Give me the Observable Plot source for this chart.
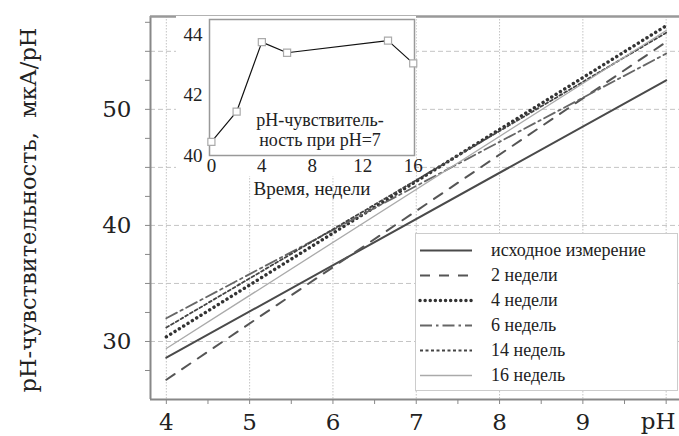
<!DOCTYPE html>
<html><head><meta charset="utf-8">
<script src="https://cdn.jsdelivr.net/npm/d3@7"></script>
<script src="https://cdn.jsdelivr.net/npm/@observablehq/plot@0.6"></script>
<style>
html,body{margin:0;padding:0;background:#fff;}
#wrap{position:relative;width:679px;height:436px;overflow:hidden;background:#fff;}
#main{position:absolute;left:0;top:0;}
#insetBg{position:absolute;left:176px;top:16px;width:240px;height:160px;background:#fff;}
#inset{position:absolute;left:176px;top:16px;}
#legend{position:absolute;left:415px;top:233px;width:263px;height:158px;box-sizing:border-box;border:1.5px solid #ccc;background:#fff;}
#legend svg{display:block;}
</style></head>
<body><div id="wrap"><div id="main"></div><div id="insetBg"></div><div id="inset"></div><div id="legend"></div></div>
<script>
// ---- data ----
const series = ["исходное измерение", "2 недели", "4 недели", "6 недель", "14 недель", "16 недель"];
const phPoints = [4, 10];
const sensAtPH4 = [28.6, 26.7, 30.4, 32.0, 31.2, 29.4];
const sensAtPH10 = [52.5, 55.8, 57.2, 54.8, 56.6, 56.8];
const xDomain = [3.81, 10.16];
const yDomain = [25, 58];
const xTickLabels = [4, 5, 6, 7, 8, 9];
const xTicks = [4, 4.5, 5, 5.5, 6, 6.5, 7, 7.5, 8, 8.5, 9, 9.5, 10];
const yTickLabels = [30, 40, 50];
const yTicks = [27.5, 30, 32.5, 35, 37.5, 40, 42.5, 45, 47.5, 50, 52.5, 55, 57.5];
const yGrid = [30, 35, 40, 45, 50, 55];
const xGrid = [4, 5, 6, 7, 8, 9, 10];
const yTitle = "pH-чувствительность,  мкА/pH";
const xTitle = "pH";

const insetWeeks = [0, 2, 4, 6, 14, 16];
const insetSens = [40.45, 41.45, 43.75, 43.4, 43.8, 43.05];
const insetXTicks = [0, 4, 8, 12, 16];
const insetYTicks = [40, 42, 44];
const insetXDomain = [-0.15, 16.1];
const insetYDomain = [40, 44.5];
const insetXTitle = "Время, недели";
const insetNote = "pH-чувствитель-\nность при pH=7";

// ---- styles ----
const lineStyles = [
  {stroke: "#4a4a4a", strokeWidth: 2},
  {stroke: "#555", strokeWidth: 2, strokeDasharray: "10,9"},
  {stroke: "#333", strokeWidth: 3.4, strokeDasharray: "0.1,5", strokeLinecap: "round"},
  {stroke: "#666", strokeWidth: 1.8, strokeDasharray: "12,4,2.5,4"},
  {stroke: "#444", strokeWidth: 1.8, strokeDasharray: "3,2.5"},
  {stroke: "#aaa", strokeWidth: 1.3}
];

const rows = series.flatMap((s, i) => phPoints.map((p, j) => ({series: s, pH: p, value: j === 0 ? sensAtPH4[i] : sensAtPH10[i]})));
const insetData = insetWeeks.map((w, i) => ({week: w, value: insetSens[i]}));

const main = Plot.plot({
  width: 679, height: 436,
  marginLeft: 150, marginRight: 0, marginTop: 16, marginBottom: 37,
  style: {fontFamily: "DejaVu Serif", fontSize: "23px", color: "#222", background: "#fff", overflow: "visible"},
  x: {domain: xDomain},
  y: {domain: yDomain},
  marks: [
    Plot.gridY(yGrid, {stroke: "#c4c4c4", strokeOpacity: 1, strokeDasharray: "5,3"}),
    Plot.gridX(xGrid, {stroke: "#c4c4c4", strokeOpacity: 1, strokeDasharray: "1.5,1.5"}),
    ...series.map((s, i) => Plot.line(rows.filter(r => r.series === s), {x: "pH", y: "value", ...lineStyles[i]})),
    Plot.ruleX([xDomain[0]], {stroke: "#888", strokeWidth: 2}),
    Plot.ruleY([yDomain[0]], {stroke: "#888", strokeWidth: 2}),
    Plot.ruleY([yDomain[1]], {stroke: "#999", strokeWidth: 2.5}),
    Plot.axisY(yTicks, {tickSize: 5, tickPadding: 14, stroke: "#888", fill: "#222", label: null,
      tickFormat: d => yTickLabels.includes(d) ? String(d) : ""}),
    Plot.axisX(xTicks, {tickSize: 5, tickPadding: 9, stroke: "#888", fill: "#222", label: null,
      tickFormat: d => xTickLabels.includes(d) ? String(d) : ""}),
    Plot.text([yTitle], {frameAnchor: "left", rotate: -90, textAnchor: "middle", lineAnchor: "middle", dx: -122, dy: 2, fontSize: 22.5, fill: "#222"}),
    Plot.text([xTitle], {frameAnchor: "bottom-right", textAnchor: "end", lineAnchor: "middle", dx: -4, dy: 22, fontSize: 23, fill: "#222"})
  ]
});
document.getElementById("main").appendChild(main);

const inset = Plot.plot({
  width: 244, height: 180,
  marginLeft: 33, marginRight: 6, marginTop: 3, marginBottom: 41,
  style: {fontFamily: "Liberation Serif", fontSize: "19px", color: "#222", background: "transparent", overflow: "visible"},
  x: {domain: insetXDomain},
  y: {domain: insetYDomain},
  marks: [
    Plot.frame({stroke: "#999", strokeWidth: 1.5}),
    Plot.axisX(insetXTicks, {tickSize: 0, tickPadding: 3, label: null, fill: "#222"}),
    Plot.axisY(insetYTicks, {tickSize: 0, tickPadding: 7, label: null, fill: "#222"}),
    Plot.line(insetData, {x: "week", y: "value", stroke: "#111", strokeWidth: 1.2}),
    Plot.dot(insetData, {x: "week", y: "value", symbol: "square", r: 4, stroke: "#aaa", fill: "#fff", strokeWidth: 1.2}),
    Plot.text([insetXTitle], {frameAnchor: "bottom", lineAnchor: "middle", dy: 33, fill: "#222"}),
    Plot.text([insetNote], {frameAnchor: "bottom", lineAnchor: "middle", dx: 8, dy: -26, lineHeight: 1.12, fontSize: 18, fill: "#222"})
  ]
});
document.getElementById("inset").appendChild(inset);

const legend = Plot.plot({
  width: 260, height: 155,
  marginLeft: 3.5, marginRight: 204.5, marginTop: 16, marginBottom: 13.5,
  style: {fontFamily: "Liberation Serif", fontSize: "18px", color: "#222", background: "#fff"},
  x: {domain: [0, 1], axis: null},
  y: {domain: series, type: "point", padding: 0, axis: null},
  marks: [
    ...series.map((s, i) => Plot.link([s], {x1: 0, x2: 1, y1: d => d, y2: d => d, ...lineStyles[i]})),
    Plot.text(series, {x: 1, y: d => d, dx: 19, textAnchor: "start", fill: "#222"})
  ]
});
document.getElementById("legend").appendChild(legend);
</script>
</body></html>
